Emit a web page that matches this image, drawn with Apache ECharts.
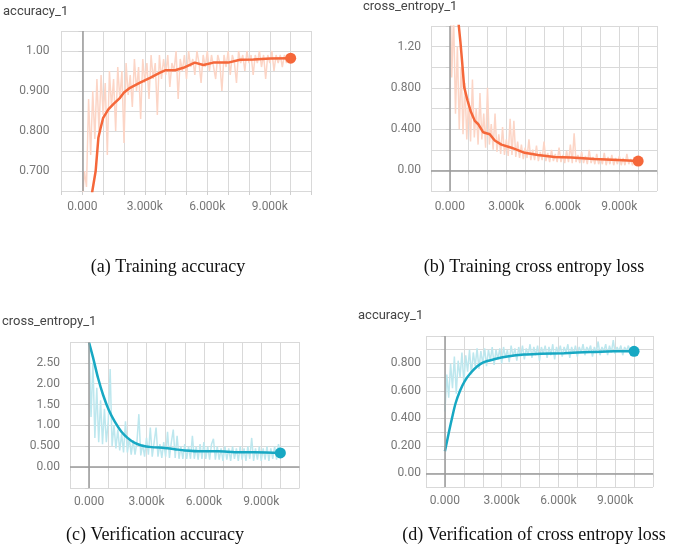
<!DOCTYPE html>
<html>
<head>
<meta charset="utf-8">
<script src="https://cdn.jsdelivr.net/npm/echarts@6/dist/echarts.min.js"></script>
<style>
  html, body { margin: 0; padding: 0; background: #fff; }
  #main { width: 685px; height: 548px; }
</style>
</head>
<body>
<div id="main"></div>
<script>
// titles and captions
var chartTitles = ['accuracy_1', 'cross_entropy_1', 'cross_entropy_1', 'accuracy_1'];
var captions = ['(a) Training accuracy', '(b) Training cross entropy loss', '(c) Verification accuracy', '(d) Verification of cross entropy loss'];

// x tick labels shown (every 3000 steps)
var xTickLabels = { 0: '0.000', 3000: '3.000k', 6000: '6.000k', 9000: '9.000k' };

// y tick labels per panel (key = value * 1000)
var yTicksA = { 700: '0.700', 800: '0.800', 900: '0.900', 1000: '1.00' };
var yTicksB = { 0: '0.00', 400: '0.400', 800: '0.800', 1200: '1.20' };
var yTicksC = { 0: '0.00', 500: '0.500', 1000: '1.00', 1500: '1.50', 2000: '2.00', 2500: '2.50' };
var yTicksD = { 0: '0.00', 200: '0.200', 400: '0.400', 600: '0.600', 800: '0.800' };

// raw values, sampled every 100 steps from 0 to 10000
var rawA = [0.62,0.70,0.66,0.88,0.74,0.90,0.78,0.93,0.80,0.94,0.84,0.92,0.74,0.95,0.86,0.93,0.80,0.96,0.88,0.95,
  0.77,0.97,0.89,0.94,0.86,0.98,0.90,0.96,0.83,0.98,0.92,0.97,0.88,0.99,0.93,0.97,0.84,0.99,0.93,0.98,
  0.94,0.99,0.91,0.97,0.95,1.00,0.88,0.98,0.95,0.99,0.93,1.00,0.96,0.98,0.94,1.00,0.97,0.92,0.99,0.96,
  1.00,0.95,0.99,0.96,0.93,0.99,0.97,0.90,0.99,0.96,1.00,0.94,0.99,0.97,0.92,1.00,0.97,0.99,0.95,1.00,
  0.97,0.99,0.94,0.99,0.97,1.00,0.96,0.99,0.93,0.99,0.97,1.00,0.95,0.99,0.97,0.99,0.96,0.99,0.97,0.99,0.98];
var rawB = [1.9,0.9,1.5,0.55,1.2,0.40,1.0,0.35,0.85,0.30,0.70,0.28,0.88,0.32,0.60,0.25,0.75,0.30,0.55,0.22,
  0.80,0.25,0.45,0.20,0.55,0.18,0.35,0.16,0.42,0.15,0.30,0.14,0.50,0.15,0.48,0.13,0.28,0.12,0.25,0.11,
  0.22,0.12,0.30,0.10,0.20,0.10,0.24,0.09,0.18,0.10,0.28,0.09,0.17,0.08,0.20,0.09,0.16,0.08,0.22,0.08,
  0.15,0.07,0.19,0.08,0.25,0.07,0.36,0.08,0.15,0.07,0.18,0.07,0.14,0.06,0.20,0.07,0.13,0.06,0.16,0.06,
  0.12,0.06,0.17,0.05,0.13,0.06,0.15,0.05,0.12,0.06,0.14,0.05,0.12,0.05,0.16,0.06,0.11,0.05,0.13,0.06,0.09];
var rawC = [2.9,1.2,2.5,0.7,1.9,0.6,1.6,0.55,1.4,0.6,1.1,2.35,0.5,1.0,0.45,0.9,0.40,0.8,0.35,1.1,
  0.35,0.7,0.3,0.65,0.3,0.6,1.27,0.28,0.55,0.25,0.7,0.3,0.95,0.25,0.6,0.95,0.25,0.55,0.22,0.6,
  0.25,0.85,0.22,0.6,0.9,0.22,0.75,0.2,0.5,0.2,0.55,0.2,0.5,0.2,0.75,0.2,0.5,0.18,0.55,0.2,
  0.6,0.2,0.5,0.18,0.55,0.68,0.18,0.5,0.18,0.45,0.15,0.5,0.18,0.45,0.15,0.5,0.2,0.45,0.15,0.5,
  0.18,0.45,0.15,0.5,0.2,0.7,0.15,0.45,0.18,0.5,0.15,0.45,0.18,0.5,0.15,0.45,0.2,0.5,0.18,0.55,0.33];
var rawD = [0.45,0.72,0.55,0.80,0.62,0.85,0.58,0.82,0.70,0.88,0.66,0.86,0.74,0.90,0.72,0.88,0.78,0.91,0.76,0.89,
  0.80,0.91,0.78,0.90,0.82,0.92,0.79,0.90,0.83,0.91,0.80,0.92,0.84,0.90,0.81,0.93,0.85,0.91,0.82,0.92,
  0.85,0.93,0.83,0.91,0.86,0.94,0.84,0.92,0.86,0.93,0.82,0.92,0.87,0.93,0.84,0.92,0.86,0.94,0.83,0.92,
  0.87,0.93,0.85,0.92,0.88,0.94,0.84,0.92,0.87,0.93,0.85,0.92,0.88,0.94,0.86,0.92,0.89,0.93,0.85,0.92,
  0.88,0.96,0.86,0.92,0.89,0.94,0.86,0.93,0.88,0.97,0.87,0.92,0.89,0.93,0.86,0.92,0.89,0.93,0.88,0.92,0.89];

// smoothed curves: steps and values
var smoothStepsA = [0,300,480,640,770,880,1000,1250,1490,1810,2000,2290,2770,3250,3730,4000,4450,4850,5400,5810,6290,7000,7570,8210,9010,10000];
var smoothA = [0.40,0.56,0.65,0.70,0.783,0.808,0.833,0.854,0.867,0.883,0.896,0.908,0.921,0.933,0.946,0.952,0.952,0.958,0.971,0.965,0.971,0.971,0.978,0.979,0.981,0.982];
var smoothStepsB = [0,200,400,477,565,654,760,936,1113,1325,1500,1767,2120,2385,2740,3270,3975,4680,5565,6450,7690,8920,10000];
var smoothB = [2.6,2.0,1.6,1.40,1.24,1.05,0.81,0.68,0.57,0.48,0.45,0.37,0.35,0.29,0.25,0.22,0.17,0.15,0.13,0.125,0.11,0.10,0.09];
var smoothStepsC = [0,209,470,732,1028,1341,1690,2038,2387,2735,3258,3955,4477,5000,5871,6742,7613,8659,10000];
var smoothC = [2.98,2.62,2.13,1.73,1.37,1.09,0.85,0.69,0.58,0.52,0.48,0.46,0.43,0.40,0.38,0.38,0.36,0.355,0.34];
var smoothStepsD = [0,212,388,564,794,1041,1358,1711,2063,2593,3298,4180,5062,6296,7707,8942,10000];
var smoothD = [0.16,0.30,0.41,0.51,0.60,0.67,0.73,0.78,0.81,0.83,0.85,0.865,0.87,0.875,0.883,0.888,0.888];

var orange = '#f5673a', orangeRaw = '#fcd5c6';
var teal = '#17a8c3', tealRaw = '#bde7ee';

function pairs(steps, vals) {
  var out = [];
  for (var i = 0; i < vals.length; i++) out.push([steps[i], vals[i]]);
  return out;
}
function rawPairs(vals) {
  var out = [];
  for (var i = 0; i < vals.length; i++) out.push([i * 100, vals[i]]);
  return out;
}

var grids = [
  { left: 61.5, top: 31, width: 250, height: 160 },
  { left: 431, top: 26, width: 226, height: 165 },
  { left: 70, top: 342, width: 229.5, height: 146 },
  { left: 426, top: 336, width: 227, height: 151 }
];
var yRanges = [
  { min: 0.65, max: 1.05, interval: 0.05, ticks: yTicksA },
  { min: -0.2, max: 1.4, interval: 0.2, ticks: yTicksB },
  { min: -0.5, max: 3.0, interval: 0.5, ticks: yTicksC },
  { min: -0.1, max: 1.0, interval: 0.1, ticks: yTicksD }
];
var xMargins = [10, 10, 8, 8];
var yMargins = [12, 10, 10, 5];

var xAxes = [], yAxes = [], series = [];
for (var g = 0; g < 4; g++) {
  xAxes.push({
    type: 'value', gridIndex: g, min: -1000, max: 11000, interval: 1000,
    axisLine: { show: false },
    axisTick: { show: true, length: 4, lineStyle: { color: '#cfcfcf' } },
    splitLine: { show: true, lineStyle: { color: '#d9d9d9', width: 1 } },
    axisLabel: {
      color: '#777', fontSize: 12, fontFamily: 'Roboto', margin: xMargins[g], hideOverlap: false,
      formatter: function (v) { return xTickLabels[v] !== undefined ? xTickLabels[v] : ''; }
    }
  });
  (function (r, m) {
    yAxes.push({
      type: 'value', gridIndex: g, min: r.min, max: r.max, interval: r.interval,
      axisLine: { show: false },
      axisTick: { show: true, length: 4, lineStyle: { color: '#cfcfcf' } },
      splitLine: { show: true, lineStyle: { color: '#d9d9d9', width: 1 } },
      axisLabel: {
        color: '#777', fontSize: 12, fontFamily: 'Roboto', margin: m, hideOverlap: false,
        formatter: function (v) { var k = Math.round(v * 1000); return r.ticks[k] !== undefined ? r.ticks[k] : ''; }
      }
    });
  })(yRanges[g], yMargins[g]);
}

var raws = [rawA, rawB, rawC, rawD];
var smooths = [pairs(smoothStepsA, smoothA), pairs(smoothStepsB, smoothB), pairs(smoothStepsC, smoothC), pairs(smoothStepsD, smoothD)];
var lineCols = [orange, orange, teal, teal];
var rawCols = [orangeRaw, orangeRaw, tealRaw, tealRaw];
var smoothness = [0, 0, 0.3, 0.3];

for (var s = 0; s < 4; s++) {
  var zeroLines = [{ xAxis: 0 }];
  if (s > 0) zeroLines.push({ yAxis: 0 });
  series.push({
    type: 'line', xAxisIndex: s, yAxisIndex: s, data: rawPairs(raws[s]),
    showSymbol: false, lineStyle: { color: rawCols[s], width: 1.5 }, silent: true, z: 2,
    markLine: {
      silent: true, symbol: 'none', label: { show: false },
      lineStyle: { color: '#9a9a9a', width: 1.5, type: 'solid' },
      data: zeroLines
    }
  });
  (function (n) {
    series.push({
      type: 'line', xAxisIndex: s, yAxisIndex: s, data: smooths[s], smooth: smoothness[s],
      showSymbol: true, showAllSymbol: true, symbol: 'circle',
      symbolSize: function (v, p) { return p.dataIndex === n - 1 ? 11 : 0; },
      itemStyle: { color: lineCols[s] },
      lineStyle: { color: lineCols[s], width: 2.5 }, silent: true, z: 3
    });
  })(smooths[s].length);
}

// titles and captions as text
var titlePos = [[3, 13], [363, 8], [2, 323], [358, 317]];
var capPos = [[168, 267], [534, 267], [155, 535], [534, 535]];
var graphics = [];
for (var t = 0; t < 4; t++) {
  graphics.push({
    type: 'text', left: titlePos[t][0], top: titlePos[t][1] - 8,
    style: { text: chartTitles[t], fill: '#444', font: '13px Roboto' }
  });
  graphics.push({
    type: 'text', x: capPos[t][0], y: capPos[t][1],
    style: { text: captions[t], fill: '#111', font: '18px "Liberation Serif", "Times New Roman", serif', textAlign: 'center', textVerticalAlign: 'middle' }
  });
}

var option = {
  backgroundColor: '#fff',
  animation: false,
  grid: grids,
  xAxis: xAxes,
  yAxis: yAxes,
  series: series,
  graphic: graphics
};
var myChart = echarts.init(document.getElementById('main'));
myChart.setOption(option, true);
</script>
</body>
</html>
